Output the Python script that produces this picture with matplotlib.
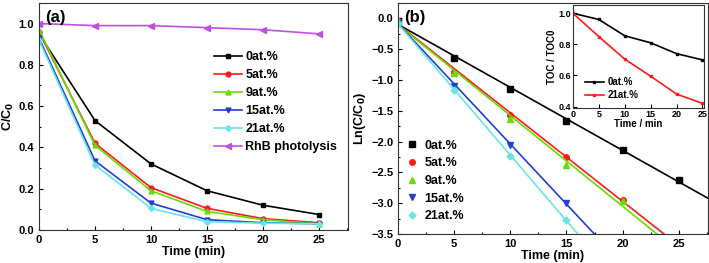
import numpy as np
import matplotlib
matplotlib.use("Agg")
import matplotlib.pyplot as plt
from matplotlib.ticker import MultipleLocator

plt.rcParams['font.family'] = ['Liberation Sans', 'DejaVu Sans']
plt.rcParams['font.weight'] = 'bold'

time = [0, 5, 10, 15, 20, 25]
labels = ['0at.%', '5at.%', '9at.%', '15at.%', '21at.%']
colors = ['#000000', '#ff1a1a', '#66dd00', '#2040d0', '#66e6e6']
markers = ['s', 'o', '^', 'v', 'D']

# Panel (a): C/C0
cc0_0 = [0.95, 0.53, 0.32, 0.19, 0.12, 0.075]
cc0_5 = [0.96, 0.42, 0.205, 0.105, 0.055, 0.035]
cc0_9 = [0.97, 0.41, 0.19, 0.09, 0.05, 0.03]
cc0_15 = [0.93, 0.335, 0.13, 0.05, 0.035, 0.03]
cc0_21 = [0.92, 0.315, 0.105, 0.04, 0.033, 0.03]
rhb = [1.0, 0.99, 0.99, 0.98, 0.97, 0.95]

# Panel (b): Ln(C/C0)
ln_0 = [-0.05, -0.64, -1.14, -1.67, -2.14, -2.62]
ln_5 = [-0.04, -0.87, -1.57, -2.25, -2.94]
ln_9 = [-0.03, -0.88, -1.64, -2.38, -2.96]
ln_15 = [-0.07, -1.09, -2.05, -3.00]
ln_21 = [-0.08, -1.16, -2.24, -3.27]

# Inset: TOC/TOC0
toc_0 = [1.0, 0.96, 0.855, 0.81, 0.74, 0.70]
toc_21 = [1.0, 0.85, 0.705, 0.595, 0.48, 0.42]

fig = plt.figure(figsize=(7.09, 2.63), dpi=100)

def style(ax, fs=8):
    ax.tick_params(which='both', direction='in', top=False, right=False, labelsize=fs, width=0.8)
    ax.tick_params(which='major', length=3)
    ax.tick_params(which='minor', length=1.5)
    for s in ax.spines.values():
        s.set_linewidth(0.8)
        s.set_color('#333333')
    for t in ax.get_xticklabels() + ax.get_yticklabels():
        t.set_fontweight('bold')

# ---- (a)
ax1 = fig.add_axes([0.055, 0.1255, 0.436, 0.8635])
cc = [cc0_0, cc0_5, cc0_9, cc0_15, cc0_21]
for y, lab, c, m in zip(cc, labels, colors, markers):
    ms = 3.5 if m != 'D' else 3
    ax1.plot(time, y, color=c, marker=m, ms=ms, lw=1.2, label=lab)
ax1.plot(time, rhb, color='#c050e0', marker='<', ms=4, lw=1.2, label='RhB photolysis')
ax1.set_xlim(0, 27.6)
ax1.set_ylim(0, 1.1)
ax1.xaxis.set_major_locator(MultipleLocator(5))
ax1.xaxis.set_minor_locator(MultipleLocator(2.5))
ax1.yaxis.set_major_locator(MultipleLocator(0.2))
ax1.yaxis.set_minor_locator(MultipleLocator(0.1))
ax1.set_xlabel('Time (min)', fontsize=9, fontweight='bold', labelpad=1)
ax1.set_ylabel('C/C$_\\mathbf{0}$', fontsize=9, fontweight='bold', labelpad=2)
ax1.text(0.02, 0.97, '(a)', transform=ax1.transAxes, fontsize=12, fontweight='bold', va='top')
ax1.legend(loc='upper left', bbox_to_anchor=(0.55, 0.81), frameon=False, fontsize=9,
           handlelength=2.2, handletextpad=0.3, labelspacing=0.48, borderaxespad=0)
style(ax1)

# ---- (b)
ax2 = fig.add_axes([0.5614, 0.110, 0.4372, 0.879])
lns = [ln_0, ln_5, ln_9, ln_15, ln_21]
xfit = np.array([0, 27.6])
for y, lab, c, m in zip(lns, labels, colors, markers):
    t = time[:len(y)]
    ms = 4 if m != 'D' else 3.5
    ax2.plot(t, y, ls='none', color=c, marker=m, ms=ms, label=lab)
    k, b = np.polyfit(t, y, 1)
    ax2.plot(xfit, k * xfit + b, color=c, lw=1.2)
ax2.set_xlim(0, 27.6)
ax2.set_ylim(-3.5, 0.25)
ax2.xaxis.set_major_locator(MultipleLocator(5))
ax2.xaxis.set_minor_locator(MultipleLocator(2.5))
ax2.yaxis.set_major_locator(MultipleLocator(0.5))
ax2.yaxis.set_minor_locator(MultipleLocator(0.25))
ax2.set_xlabel('Time (min)', fontsize=9, fontweight='bold', labelpad=1)
ax2.set_ylabel('Ln(C/C$_\\mathbf{0}$)', fontsize=9, fontweight='bold', labelpad=2)
ax2.text(0.02, 0.97, '(b)', transform=ax2.transAxes, fontsize=12, fontweight='bold', va='top')
ax2.legend(loc='upper left', bbox_to_anchor=(0.0, 0.43), frameon=False, fontsize=9,
           handlelength=1.5, handletextpad=0.2, labelspacing=0.45, borderaxespad=0)
style(ax2)

# ---- inset
ax3 = fig.add_axes([0.808, 0.589, 0.185, 0.392])
ax3.plot(time, toc_0, color='black', marker='s', ms=1.5, lw=1.2, label='0at.%')
ax3.plot(time, toc_21, color='#ff1a1a', marker='s', ms=1.5, lw=1.2, label='21at.%')
ax3.set_xlim(0, 25.3)
ax3.set_ylim(0.39, 1.053)
ax3.xaxis.set_major_locator(MultipleLocator(5))
ax3.yaxis.set_major_locator(MultipleLocator(0.2))
ax3.set_xlabel('Time / min', fontsize=7, fontweight='bold', labelpad=0)
ax3.set_ylabel('TOC / TOC0', fontsize=7, fontweight='bold', labelpad=1)
ax3.legend(loc='lower left', bbox_to_anchor=(0.06, 0.04), frameon=False, fontsize=7,
           handlelength=2.0, handletextpad=0.4, labelspacing=0.3, borderaxespad=0)
style(ax3, fs=6.5)
ax3.tick_params(pad=1.5)

fig.savefig('out.png', dpi=100)
